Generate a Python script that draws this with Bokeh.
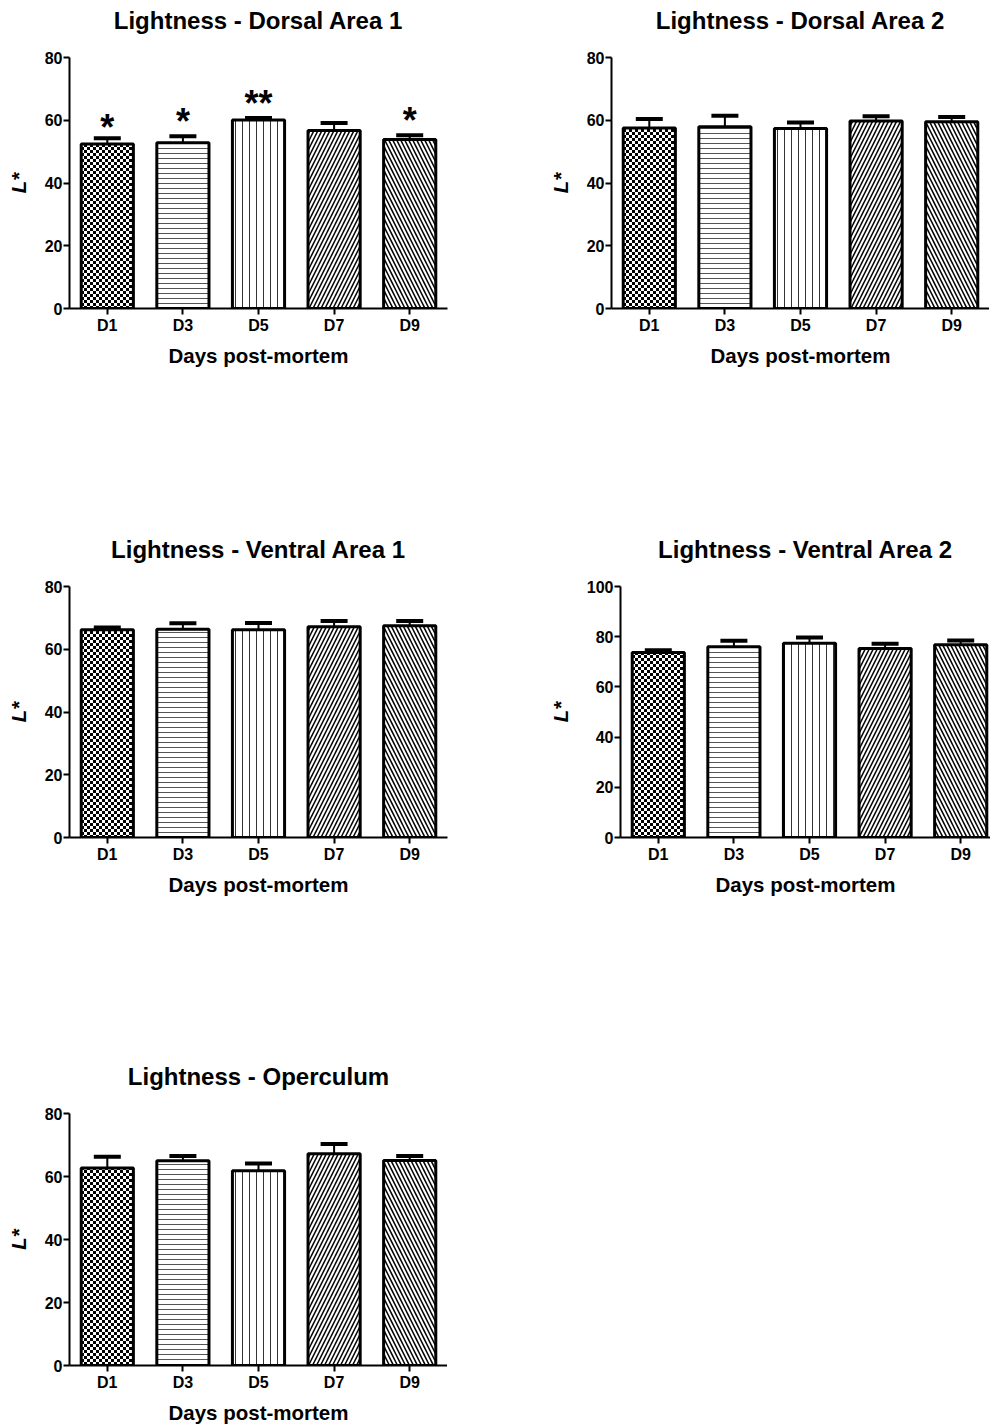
from bokeh.plotting import figure
from bokeh.models import (Range1d, FixedTicker, Whisker, TeeHead, ColumnDataSource,
                          CanvasTexture, LinearAxis)
from bokeh.layouts import column, row
from bokeh.embed import file_html
from bokeh.resources import INLINE
from bokeh.core.properties import value

# ---------------- data ----------------
days = ["D1", "D3", "D5", "D7", "D9"]

dorsal1_mean = [52.4, 52.8, 60.1, 56.7, 53.9]
dorsal1_sem = [1.9, 2.1, 0.6, 2.4, 1.3]
dorsal1_sig = ["*", "*", "**", "", "*"]
dorsal1_sig_y = [59.5, 61.5, 67.3, float("nan"), 61.8]

dorsal2_mean = [57.5, 57.9, 57.4, 59.8, 59.5]
dorsal2_sem = [2.9, 3.5, 1.9, 1.5, 1.5]

ventral1_mean = [66.2, 66.4, 66.2, 67.2, 67.5]
ventral1_sem = [0.7, 1.9, 2.2, 1.8, 1.5]

ventral2_mean = [73.7, 76.0, 77.4, 75.3, 76.8]
ventral2_sem = [0.9, 2.4, 2.3, 1.9, 1.7]

operculum_mean = [62.7, 65.0, 61.8, 67.2, 65.1]
operculum_sem = [3.6, 1.5, 2.3, 3.1, 1.4]

# bar fill patterns, one per day
patterns = ["checker", "-", "|", "/", "\\"]
hatch_scales = [6, 5, 7, 8, 8]
hatch_colors = ["black", "#555555", "#333333", "black", "black"]
hatch_weights = [1, 1, 1, 1.5, 1.5]

FONT = "Liberation Sans"

checker = CanvasTexture(code="""
const c = ctx.canvas;
c.width = 6;
c.height = 6;
ctx.setTransform(1, 0, 0, 1, 0, 0);
ctx.clearRect(0, 0, 6, 6);
ctx.fillStyle = "#000000";
ctx.fillRect(0, 0, 3, 3);
ctx.fillRect(3, 3, 3, 3);
""")


def make_panel(title, means, sems, y_max, frame_w, frame_h, x_end, mb_left, mb_right,
               mb_bottom, sig=None, sig_y=None):
    xs = list(range(1, len(days) + 1))
    src = ColumnDataSource(dict(
        x=xs, top=means, upper=[m + s for m, s in zip(means, sems)],
        pat=patterns, hs=hatch_scales, hc=hatch_colors, hw=hatch_weights))
    p = figure(frame_width=frame_w, frame_height=frame_h,
               x_range=Range1d(0.5, x_end), y_range=Range1d(0, y_max),
               output_backend="svg", toolbar_location=None,
               min_border_left=mb_left, min_border_right=mb_right,
               min_border_top=57, min_border_bottom=mb_bottom, title=title)
    p.outline_line_color = None
    p.xgrid.visible = False
    p.ygrid.visible = False
    p.background_fill_color = "white"
    p.border_fill_color = "white"

    xa = p.below[0]
    ya = p.left[0]

    p.vbar(x="x", top="top", bottom=0, width=0.69, source=src,
           fill_color="white", line_color="black", line_width=3,
           hatch_pattern="pat", hatch_scale="hs", hatch_color="hc", hatch_weight="hw",
           hatch_extra={"checker": checker})

    wh = Whisker(source=src, base="x", lower="top", upper="upper",
                 line_color="black", line_width=2,
                 upper_head=TeeHead(size=27, line_width=4, line_color="black"),
                 lower_head=None)
    p.add_layout(wh)

    if sig is not None:
        ssrc = ColumnDataSource(dict(x=xs, y=sig_y, t=sig))
        p.text(x="x", y="y", text="t", source=ssrc, text_align="center",
               text_baseline="alphabetic", y_offset=6,
               text_font=value(FONT), text_font_style="bold",
               text_font_size="36px", text_color="black")

    p.title.text_font = FONT
    p.title.text_font_style = "bold"
    p.title.text_font_size = "24px"
    p.title.align = "center"
    p.title.vertical_align = "bottom"
    p.title.standoff = 8
    p.title.text_color = "black"

    xa.ticker = FixedTicker(ticks=xs)
    xa.major_label_overrides = {x: d for x, d in zip(xs, days)}
    ya.ticker = FixedTicker(ticks=list(range(0, y_max + 1, 20)))
    xa.axis_label = "Days post-mortem"
    ya.axis_label = "L*"

    for ax in (xa, ya):
        ax.axis_line_width = 2
        ax.axis_line_color = "black"
        ax.major_tick_line_width = 2
        ax.major_tick_line_color = "black"
        ax.major_tick_out = 6
        ax.major_tick_in = 0
        ax.minor_tick_out = 0
        ax.minor_tick_in = 0
        ax.major_label_text_font = FONT
        ax.major_label_text_font_style = "bold"
        ax.major_label_text_font_size = "16px"
        ax.major_label_text_color = "black"
        ax.axis_label_text_font = FONT
        ax.axis_label_text_color = "black"
        ax.axis_label_text_font_size = "20.5px"
    xa.axis_label_text_font_style = "bold"
    ya.axis_label_text_font_style = "bold italic"
    xa.major_label_standoff = 2
    xa.axis_label_standoff = 7
    ya.major_label_standoff = 1
    ya.axis_label_standoff = 12

    # invisible spacer axis between frame and title
    spacer = LinearAxis(ticker=FixedTicker(ticks=[xs[len(xs) // 2]]),
                        axis_line_color=None,
                        major_tick_out=20, major_tick_in=0, minor_tick_out=0,
                        minor_tick_in=0, major_label_standoff=0,
                        major_tick_line_color=None, minor_tick_line_color=None,
                        major_label_text_font_size="1px",
                        major_label_text_alpha=0.0,
                        major_label_overrides={xs[len(xs) // 2]: " "})
    p.add_layout(spacer, "above")
    return p


f1 = make_panel("Lightness - Dorsal Area 1", dorsal1_mean, dorsal1_sem, 80, 378, 251, 5.5,
                69, 95, 221, sig=dorsal1_sig, sig_y=dorsal1_sig_y)
f2 = make_panel("Lightness - Dorsal Area 2", dorsal2_mean, dorsal2_sem, 80, 378, 251, 5.5,
                69, 0, 221)
f3 = make_panel("Lightness - Ventral Area 1", ventral1_mean, ventral1_sem, 80, 378, 251, 5.5,
                69, 95, 219)
f4 = make_panel("Lightness - Ventral Area 2", ventral2_mean, ventral2_sem, 100, 370, 251,
                0.5 + 370 / 75.6, 78, 0, 219)
f5 = make_panel("Lightness - Operculum", operculum_mean, operculum_sem, 80, 378, 252, 5.5,
                69, 0, 60)

layout = column(row(f1, f2), row(f3, f4), f5)

open("out.html", "w").write(file_html(layout, INLINE))
